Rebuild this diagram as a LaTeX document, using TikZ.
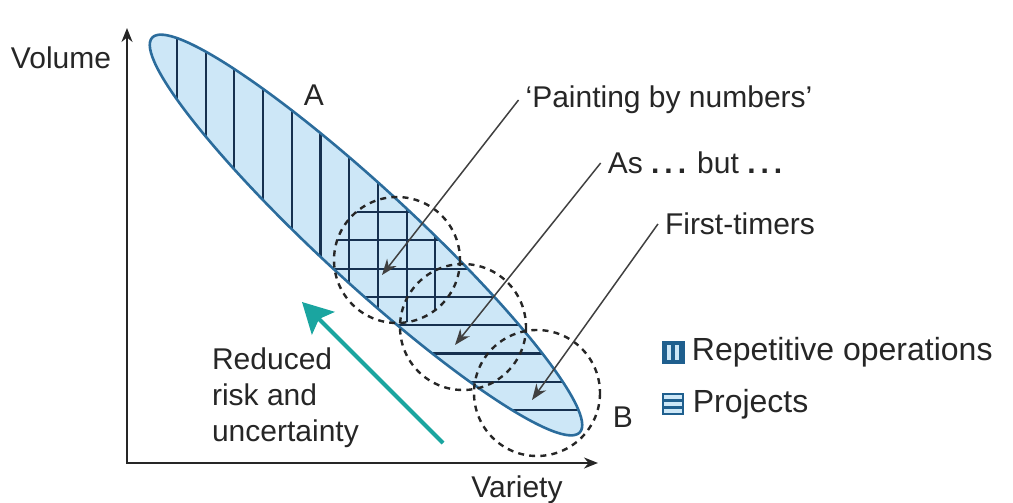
\documentclass[tikz,border=0pt]{standalone}
\usepackage{fontspec}
\setmainfont{Liberation Sans}
\usetikzlibrary{arrows.meta,positioning}
\definecolor{vvFill}{HTML}{CDE7F7}
\definecolor{vvEdge}{HTML}{2B6C9C}
\definecolor{vvHatch}{HTML}{16304F}
\definecolor{vvTeal}{HTML}{1AA5A0}
\definecolor{vvText}{HTML}{262626}
\definecolor{vvIcon}{HTML}{1F5F8E}
\tikzset{
  lbl/.style={font=\fontsize{15}{18}\selectfont, text=vvText},
  leglbl/.style={font=\fontsize{16}{19}\selectfont, text=vvText},
  axisline/.style={{Stealth[length=7pt,width=5.5pt]}-{Stealth[length=7pt,width=5.5pt]}, line width=1pt, black!85},
  hatch/.style={draw=vvHatch, line width=1.05pt},
  blobedge/.style={draw=vvEdge, line width=1.3pt},
  zone/.style={draw=black!85, line width=1.2pt, dash pattern=on 3pt off 2.6pt},
  callout/.style={-{Stealth[length=8pt,width=6pt]}, line width=0.75pt, black!75},
  trend/.style={-{Stealth[length=15pt,width=16pt,inset=3pt]}, line width=2pt, vvTeal},
  repicon/.style={fill=vvIcon, minimum width=11.5pt, minimum height=11.5pt, inner sep=0pt,
    path picture={
      \fill[vvFill] ([xshift=-3pt,yshift=-2pt]path picture bounding box.north) rectangle ([xshift=-1.2pt,yshift=2pt]path picture bounding box.south);
      \fill[vvFill] ([xshift=1.2pt,yshift=-2pt]path picture bounding box.north) rectangle ([xshift=3pt,yshift=2pt]path picture bounding box.south);
    }},
  projicon/.style={draw=vvIcon, fill=vvFill, line width=1.3pt, minimum width=10pt, minimum height=10pt, inner sep=0pt,
    path picture={
      \draw[vvIcon, line width=1.3pt] ([yshift=1.7pt]path picture bounding box.west) -- ([yshift=1.7pt]path picture bounding box.east);
      \draw[vvIcon, line width=1.3pt] ([yshift=-1.7pt]path picture bounding box.west) -- ([yshift=-1.7pt]path picture bounding box.east);
    }}
}
\newcommand{\blob}{[rotate around={-42.7:(366,235)}] (366,235) ellipse [x radius=291, y radius=47]}
\begin{document}
\begin{tikzpicture}[x=0.5pt, y=-0.5pt]
  \useasboundingbox (0,0) rectangle (1013,503);
  \coordinate (c1) at (397,260);
  \coordinate (c2) at (463,327);
  \coordinate (c3) at (537,393);

  \fill[vvFill] \blob;
  \begin{scope}
    \clip \blob;
    \begin{scope}
      \clip (126,554) -- (668,-34) -- (227,-441) -- (-315,147) -- cycle;
      \foreach \k in {0,...,9} \draw[hatch] ({177+28.7*\k},0) -- ({177+28.7*\k},503);
    \end{scope}
    \begin{scope}
      \clip (c1) circle [radius=63];
      \foreach \k in {0,...,9} \draw[hatch] ({177+28.7*\k},0) -- ({177+28.7*\k},503);
      \foreach \k in {0,...,7} \draw[hatch] (0,{212+28.3*\k}) -- (1013,{212+28.3*\k});
    \end{scope}
    \begin{scope}
      \clip (126,554) -- (668,-34) -- (1109,373) -- (567,961) -- cycle;
      \foreach \k in {0,...,7} \draw[hatch] (0,{212+28.3*\k}) -- (1013,{212+28.3*\k});
    \end{scope}
  \end{scope}
  \draw[blobedge] \blob;

  \draw[zone] (c1) circle [radius=63];
  \draw[zone] (c2) circle [radius=63];
  \draw[zone] (c3) circle [radius=63];

  \coordinate (O) at (127,463);
  \coordinate (ytop) at (127,28);
  \coordinate (xend) at (598,463);
  \draw[axisline] (ytop) -- (O) -- (xend);
  \node[lbl] (vol) at (61,58) {Volume};
  \node[lbl] (var) at (517,490) {Variety};
  \node[lbl] (lblA) at (314,95) {A};
  \node[lbl] (lblB) at (623,417) {B};

  \node[lbl] (pbn) at (669,100) {‘Painting by numbers’};
  \node[lbl] (asbut) at (695,163) {As {\bfseries .\kern2.5pt.\kern2.5pt.} but {\bfseries .\kern2.5pt.\kern2.5pt.}};
  \node[lbl] (first) at (740,224) {First-timers};
  \coordinate (pbnTip) at (382,275);
  \coordinate (asbutTip) at (455,345);
  \coordinate (firstTip) at (532,400);
  \draw[callout] (pbn.west) -- (pbnTip);
  \draw[callout] (asbut.west) -- (asbutTip);
  \draw[callout] (first.west) -- (firstTip);

  \coordinate (trendTail) at (443,443);
  \coordinate (trendTip) at (302,302);
  \draw[trend] (trendTail) -- (trendTip);
  \node[lbl, align=left, anchor=west] (risk) at (205,398) {Reduced\\risk and\\uncertainty};

  \node[repicon] (iconR) at (673,352) {};
  \node[leglbl, right=0pt of iconR] (legR) {Repetitive operations};
  \node[projicon] (iconP) at (673,404) {};
  \node[leglbl, right=0.7pt of iconP] (legP) {Projects};
\end{tikzpicture}
\end{document}
